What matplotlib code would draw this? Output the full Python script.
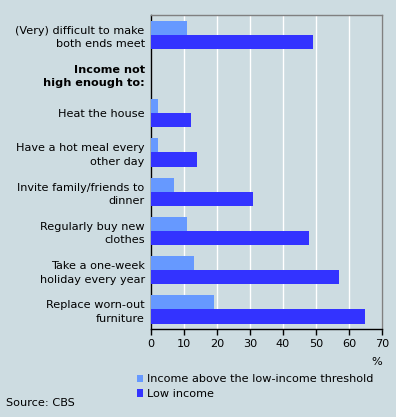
import numpy as np
import matplotlib.pyplot as plt
import matplotlib.transforms as mtransforms

# categories top to bottom, the header row has no bars
categories = [
    "(Very) difficult to make\nboth ends meet",
    "Income not\nhigh enough to:",
    "Heat the house",
    "Have a hot meal every\nother day",
    "Invite family/friends to\ndinner",
    "Regularly buy new\nclothes",
    "Take a one-week\nholiday every year",
    "Replace worn-out\nfurniture",
]
above_threshold = [11, np.nan, 2, 2, 7, 11, 13, 19]
low_income = [49, np.nan, 12, 14, 31, 48, 57, 65]
xticks = [0, 10, 20, 30, 40, 50, 60, 70]

bg = "#cddce1"
c_above = "#6699ff"
c_low = "#3333ff"
fs = 8.1

fig = plt.figure(figsize=(3.96, 4.17), dpi=100, facecolor=bg)
ax = fig.add_axes([0.3813, 0.211, 0.5833, 0.753], facecolor=bg)

y = np.arange(len(categories))
h = 0.36
ax.barh(y - h / 2, above_threshold, height=h, color=c_above,
        label="Income above the low-income threshold", zorder=3)
ax.barh(y + h / 2, low_income, height=h, color=c_low,
        label="Low income", zorder=3)

ax.set_xlim(0, 70)
ax.set_ylim(len(categories) - 0.5, -0.5)
ax.set_xticks(xticks)
ax.set_yticks(y)
ax.set_yticklabels(categories, fontsize=fs, linespacing=1.45)
header = ax.get_yticklabels()[1]
header.set_fontweight("bold")
header.set_transform(header.get_transform() +
                     mtransforms.ScaledTranslation(0, -6 / 100, fig.dpi_scale_trans))
ax.tick_params(axis="y", length=0, pad=4.5)
ax.tick_params(axis="x", labelsize=fs, length=4, width=1, color="black", pad=3)
ax.xaxis.grid(True, color="white", linewidth=1, zorder=0)

for s in ["left", "bottom"]:
    ax.spines[s].set_color("black")
    ax.spines[s].set_linewidth(1)
for s in ["top", "right"]:
    ax.spines[s].set_color("#808080")
    ax.spines[s].set_linewidth(1)

fig.text(0.952, 0.132, "%", fontsize=fs, ha="center", va="center")
fig.legend(loc="upper left", bbox_to_anchor=(0.345, 0.102), frameon=False,
           fontsize=fs, handlelength=0.6, handleheight=0.6, handletextpad=0.3,
           labelspacing=0.4, borderaxespad=0, borderpad=0)
fig.text(0.015, 0.033, "Source: CBS", fontsize=fs, ha="left", va="center")

fig.savefig("out.png", dpi=100, facecolor=bg)
